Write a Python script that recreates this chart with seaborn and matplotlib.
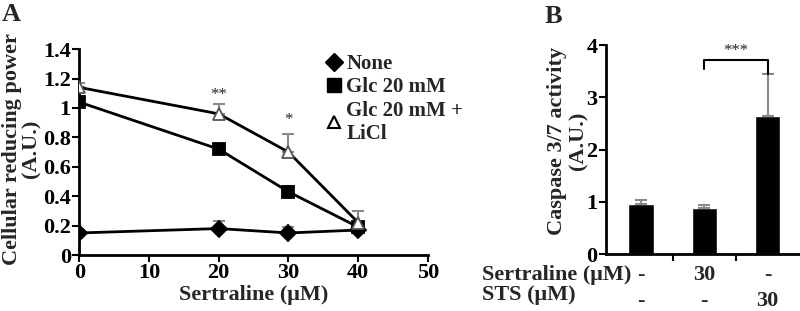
import numpy as np
import pandas as pd
import matplotlib.pyplot as plt
import matplotlib.transforms as mtransforms
from matplotlib.lines import Line2D
import seaborn as sns

sns.set_style("ticks")
plt.rcParams['font.family'] = ['Liberation Serif', 'DejaVu Serif']
plt.rcParams['font.weight'] = 'bold'
plt.rcParams['axes.labelweight'] = 'bold'

# panel A data
conc = [0, 20, 30, 40]
none_vals = [0.15, 0.18, 0.15, 0.17]
none_err = [0.02, 0.05, 0.04, 0.01]
glc_vals = [1.04, 0.72, 0.43, 0.19]
glc_err = [0.02, 0.02, 0.04, 0.03]
licl_vals = [1.14, 0.96, 0.70, 0.22]
licl_err = [0.03, 0.07, 0.12, 0.08]
series_names = ["None", "Glc 20 mM", "Glc 20 mM +\nLiCl"]

# panel B data
bar_groups = ["ctrl", "sert", "sts"]
caspase_vals = [0.95, 0.88, 2.65]
caspase_err = [0.08, 0.05, 0.80]
sert_row = ["-", "30", "-"]
sts_row = ["-", "-", "30"]

fig = plt.figure(figsize=(8, 3.11), dpi=100)
axA = fig.add_axes([0.099, 0.180, 0.436, 0.662])
axB = fig.add_axes([0.7575, 0.183, 0.2415, 0.672])

FS = 16
LFS = 15
err_col = '#8a8a8a'

styles = [
    (none_vals, none_err, 'D', 'k', 8),
    (glc_vals, glc_err, 's', 'k', 9),
    (licl_vals, licl_err, '^', 'white', 9),
]
for vals, err, m, fc, ms in styles:
    axA.errorbar(conc, vals, yerr=[np.zeros(len(err)), err], fmt='none',
                 ecolor=err_col, elinewidth=1.5, capsize=4, capthick=1.5, zorder=2)
    sns.lineplot(x=conc, y=vals, ax=axA, color='k', linewidth=2, marker=m,
                 markersize=ms, markerfacecolor=fc,
                 markeredgecolor='k' if fc == 'k' else '#555555',
                 markeredgewidth=1.3, zorder=3)

axA.text(20, 1.09, "**", ha='center', va='center', fontsize=12, fontweight='normal')
axA.text(30, 0.92, "*", ha='center', va='center', fontsize=12, fontweight='normal')

axA.set_xlim(0, 50)
axA.set_ylim(0, 1.4)
axA.set_xticks([0, 10, 20, 30, 40, 50])
axA.set_yticks([0, 0.2, 0.4, 0.6, 0.8, 1.0, 1.2, 1.4])
axA.set_yticklabels(["0", "0.2", "0.4", "0.6", "0.8", "1", "1.2", "1.4"])
axA.set_xlabel("Sertraline (μM)", fontsize=FS, labelpad=1)
axA.set_ylabel("Cellular reducing power\n(A.U.)", fontsize=16, linespacing=1.0)
axA.yaxis.set_label_coords(-0.108, 0.515)

handles = [
    Line2D([], [], marker='D', color='k', linestyle='none', markersize=9),
    Line2D([], [], marker='s', color='k', linestyle='none', markersize=10),
    Line2D([], [], marker='^', color='k', markerfacecolor='white', linestyle='none',
           markersize=8, markeredgewidth=1.5),
]
axA.legend(handles, series_names, loc='upper left', bbox_to_anchor=(0.7, 0.975),
           frameon=False, fontsize=LFS, handletextpad=0.1, handlelength=1.0,
           labelspacing=0.15, borderaxespad=0, borderpad=0)

# panel B
bdf = pd.DataFrame({"group": bar_groups, "val": caspase_vals})
sns.barplot(data=bdf, x="group", y="val", ax=axB, color='k', width=0.4,
            errorbar=None, saturation=1)
axB.errorbar(range(len(bar_groups)), caspase_vals,
             yerr=[np.zeros(len(caspase_err)), caspase_err], fmt='none',
             ecolor=err_col, elinewidth=1.5, capsize=4, capthick=1.5)
axB.set_xlim(-0.55, 2.5)
axB.set_ylim(0, 4)
axB.set_yticks([0, 1, 2, 3, 4])
axB.set_xticks([0.5, 1.5])
axB.set_xticklabels([])
axB.set_xlabel("")
axB.set_ylabel("Caspase 3/7 activity\n(A.U.)", fontsize=FS, linespacing=1.05)
axB.yaxis.set_label_coords(-0.093, 0.54)

# significance bracket
axB.plot([1, 1, 2, 2], [3.55, 3.72, 3.72, 3.45], color='k', lw=1.5)
axB.text(1.5, 3.88, "***", ha='center', va='center', fontsize=12, fontweight='normal')

trans = mtransforms.blended_transform_factory(axB.transData, axB.transAxes)
for i in range(len(bar_groups)):
    axB.text(i, -0.1, sert_row[i], transform=trans, ha='center', va='center', fontsize=FS)
    axB.text(i, -0.225, sts_row[i], transform=trans, ha='center', va='center', fontsize=FS)
fig.text(482 / 800, 1 - 275 / 311, "Sertraline (μM)", ha='left', va='center', fontsize=FS)
fig.text(482 / 800, 1 - 295 / 311, "STS (μM)", ha='left', va='center', fontsize=FS)

for ax in (axA, axB):
    sns.despine(ax=ax)
    for s in ('left', 'bottom'):
        ax.spines[s].set_linewidth(2)
        ax.spines[s].set_color('k')
    ax.tick_params(axis='both', labelsize=FS, width=1.5, length=5, pad=1, colors='k')

fig.text(0.002, 0.99, "A", ha='left', va='top', fontsize=19)
fig.text(545 / 800, 0.985, "B", ha='left', va='top', fontsize=19)

fig.savefig("out.png", dpi=100)
